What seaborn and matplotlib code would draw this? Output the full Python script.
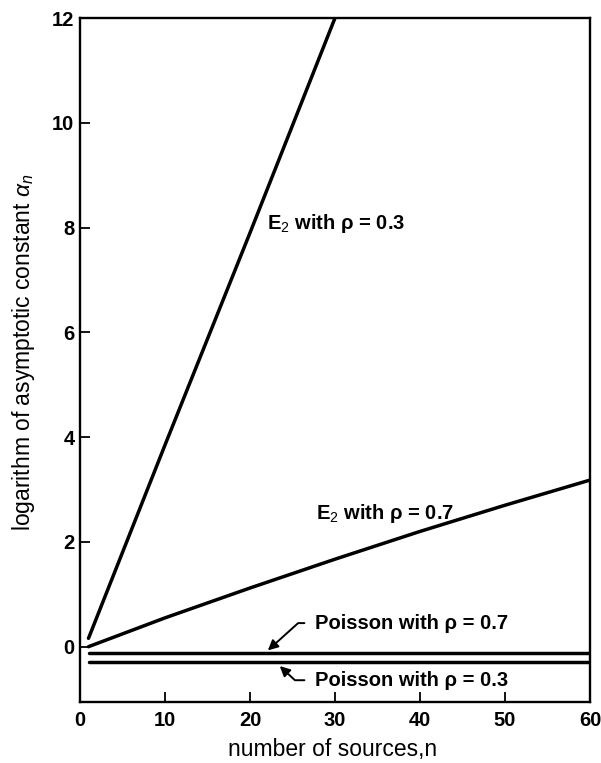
import matplotlib
matplotlib.use("Agg")
import matplotlib.pyplot as plt
import seaborn as sns
import pandas as pd

# ---- data ----
n_e2_03 = [1, 10, 20, 30, 30.3]
y_e2_03 = [0.16, 3.85, 7.90, 12.0, 12.12]

n_e2_07 = [1, 10, 20, 30, 40, 50, 60]
y_e2_07 = [0.0, 0.55, 1.12, 1.67, 2.20, 2.70, 3.18]

n_pois = [1, 60]
y_pois_07 = [-0.115, -0.115]
y_pois_03 = [-0.30, -0.30]

series_names = ["E2 rho=0.3", "E2 rho=0.7", "Poisson rho=0.7", "Poisson rho=0.3"]

x_ticks = [0, 10, 20, 30, 40, 50, 60]
y_ticks = [0, 2, 4, 6, 8, 10, 12]

frames = [
    pd.DataFrame({"n": n_e2_03, "v": y_e2_03, "s": series_names[0]}),
    pd.DataFrame({"n": n_e2_07, "v": y_e2_07, "s": series_names[1]}),
    pd.DataFrame({"n": n_pois, "v": y_pois_07, "s": series_names[2]}),
    pd.DataFrame({"n": n_pois, "v": y_pois_03, "s": series_names[3]}),
]
df = pd.concat(frames, ignore_index=True)

sns.set_theme(style="ticks")
plt.rcParams["font.family"] = ["Liberation Sans", "DejaVu Sans"]
plt.rcParams["mathtext.fontset"] = "custom"
plt.rcParams["mathtext.rm"] = "Liberation Sans"
plt.rcParams["mathtext.it"] = "Liberation Sans:italic"
plt.rcParams["mathtext.bf"] = "Liberation Sans:bold"

fig = plt.figure(figsize=(6.01, 7.63), dpi=100)
ax = fig.add_axes([80 / 601, 1 - 701.7 / 763, 510 / 601, 683.7 / 763])

sns.lineplot(data=df, x="n", y="v", hue="s", units="s", estimator=None,
             palette={k: "black" for k in series_names}, linewidth=2.5,
             legend=False, ax=ax, sort=False)

ax.set_xlim(0, 60)
ax.set_ylim(-1.05, 12)
ax.set_xticks(x_ticks)
ax.set_yticks(y_ticks)
ax.set_xticklabels([str(t) for t in x_ticks], fontsize=14.5, fontweight="bold")
ax.set_yticklabels([str(t) for t in y_ticks], fontsize=14.5, fontweight="bold")
ax.tick_params(direction="in", length=7.5, width=1.3, color="black",
               labelcolor="black")
ax.tick_params(axis="x", pad=7)
ax.tick_params(axis="y", pad=4)

for sp in ax.spines.values():
    sp.set_visible(True)
    sp.set_linewidth(1.7)
    sp.set_color("black")

ax.set_xlabel("number of sources,n", fontsize=16.5, color="black")
ax.set_ylabel(r"logarithm of asymptotic constant $\alpha_n$", fontsize=16.5,
              color="black")
ax.xaxis.set_label_coords(0.496, -0.053)
ax.yaxis.set_label_coords(-0.085, 0.511)

tk = dict(fontsize=14.5, color="black", fontweight="semibold")
ax.text(22.0, 8.07, r"E$_2$ with ρ = 0.3", va="center", ha="left", **tk)
ax.text(27.8, 2.55, r"E$_2$ with ρ = 0.7", va="center", ha="left", **tk)

ax.annotate("Poisson with ρ = 0.7", xy=(22.1, -0.07), xytext=(27.6, 0.45),
            va="center", ha="left", **tk,
            arrowprops=dict(arrowstyle="-|>", color="black", lw=1.4,
                            mutation_scale=15, shrinkA=5, shrinkB=0,
                            connectionstyle="angle,angleA=0,angleB=42,rad=0"))
ax.annotate("Poisson with ρ = 0.3", xy=(23.5, -0.37), xytext=(27.6, -0.64),
            va="center", ha="left", **tk,
            arrowprops=dict(arrowstyle="-|>", color="black", lw=1.4,
                            mutation_scale=15, shrinkA=5, shrinkB=0,
                            connectionstyle="angle,angleA=0,angleB=-43,rad=0"))

fig.savefig("out.png", dpi=100)
